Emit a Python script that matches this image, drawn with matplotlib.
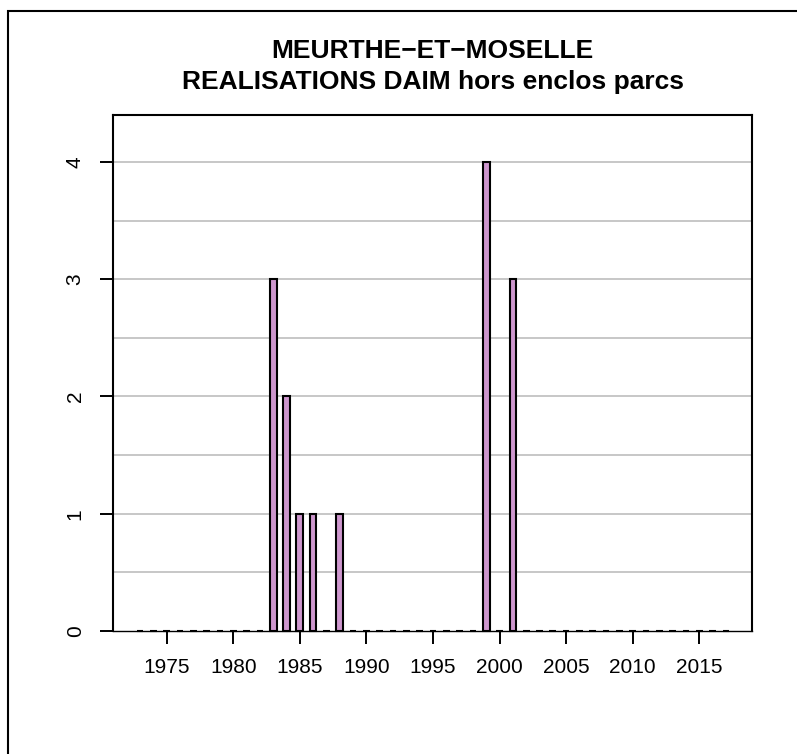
import matplotlib
matplotlib.use("Agg")
import matplotlib.pyplot as plt
from matplotlib.patches import Rectangle

# data
years = list(range(1973, 2018))
counts = {1983: 3, 1984: 2, 1985: 1, 1986: 1, 1988: 1, 1999: 4, 2001: 3}
values = [counts.get(y, 0) for y in years]
x_ticks = [1975, 1980, 1985, 1990, 1995, 2000, 2005, 2010, 2015]
y_ticks = [0, 1, 2, 3, 4]
grid_levels = [0.5, 1.0, 1.5, 2.0, 2.5, 3.0, 3.5, 4.0]
title_lines = ["MEURTHE\u2212ET\u2212MOSELLE", "REALISATIONS DAIM hors enclos parcs"]

plt.rcParams['font.family'] = ['Liberation Sans', 'DejaVu Sans']

fig = plt.figure(figsize=(7.97, 7.54), dpi=100)

# outer frame (runs off the right and bottom edges)
fig.patches.append(Rectangle((8 / 797, -0.05), 1.1, 1 - 11 / 754 + 0.05,
                             transform=fig.transFigure, fill=False,
                             edgecolor='black', linewidth=1.5))

ax = fig.add_axes([113 / 797, 1 - 631 / 754, (752 - 113) / 797, (631 - 115) / 754])

for g in grid_levels:
    ax.axhline(g, color='#BEBEBE', linewidth=1.2, zorder=1)

# zero-height bars leave their outline along the baseline
ax.bar(years, values, width=0.5, color='#CD96CD', edgecolor='black',
       linewidth=1.5, zorder=3, clip_on=False)

ax.set_xlim(1970.97, 2018.96)
ax.set_ylim(0, 4.4)
ax.set_xticks(x_ticks)
ax.set_yticks(y_ticks)
ax.set_yticklabels([str(v) for v in y_ticks], rotation=90, va='center')
ax.tick_params(axis='both', length=9.4, width=1.4, labelsize=15, pad=11)
ax.tick_params(axis='x', pad=10)

for s in ax.spines.values():
    s.set_linewidth(1.5)
ax.spines['bottom'].set_linewidth(1.0)

# two-line bold title, one text per line
cx = (113 + 752) / 2 / 797
for line, base in zip(title_lines, [58, 89]):
    fig.text(cx, 1 - base / 754, line, ha='center', va='baseline',
             fontsize=19, fontweight='bold')

fig.savefig("out.png", dpi=100)
